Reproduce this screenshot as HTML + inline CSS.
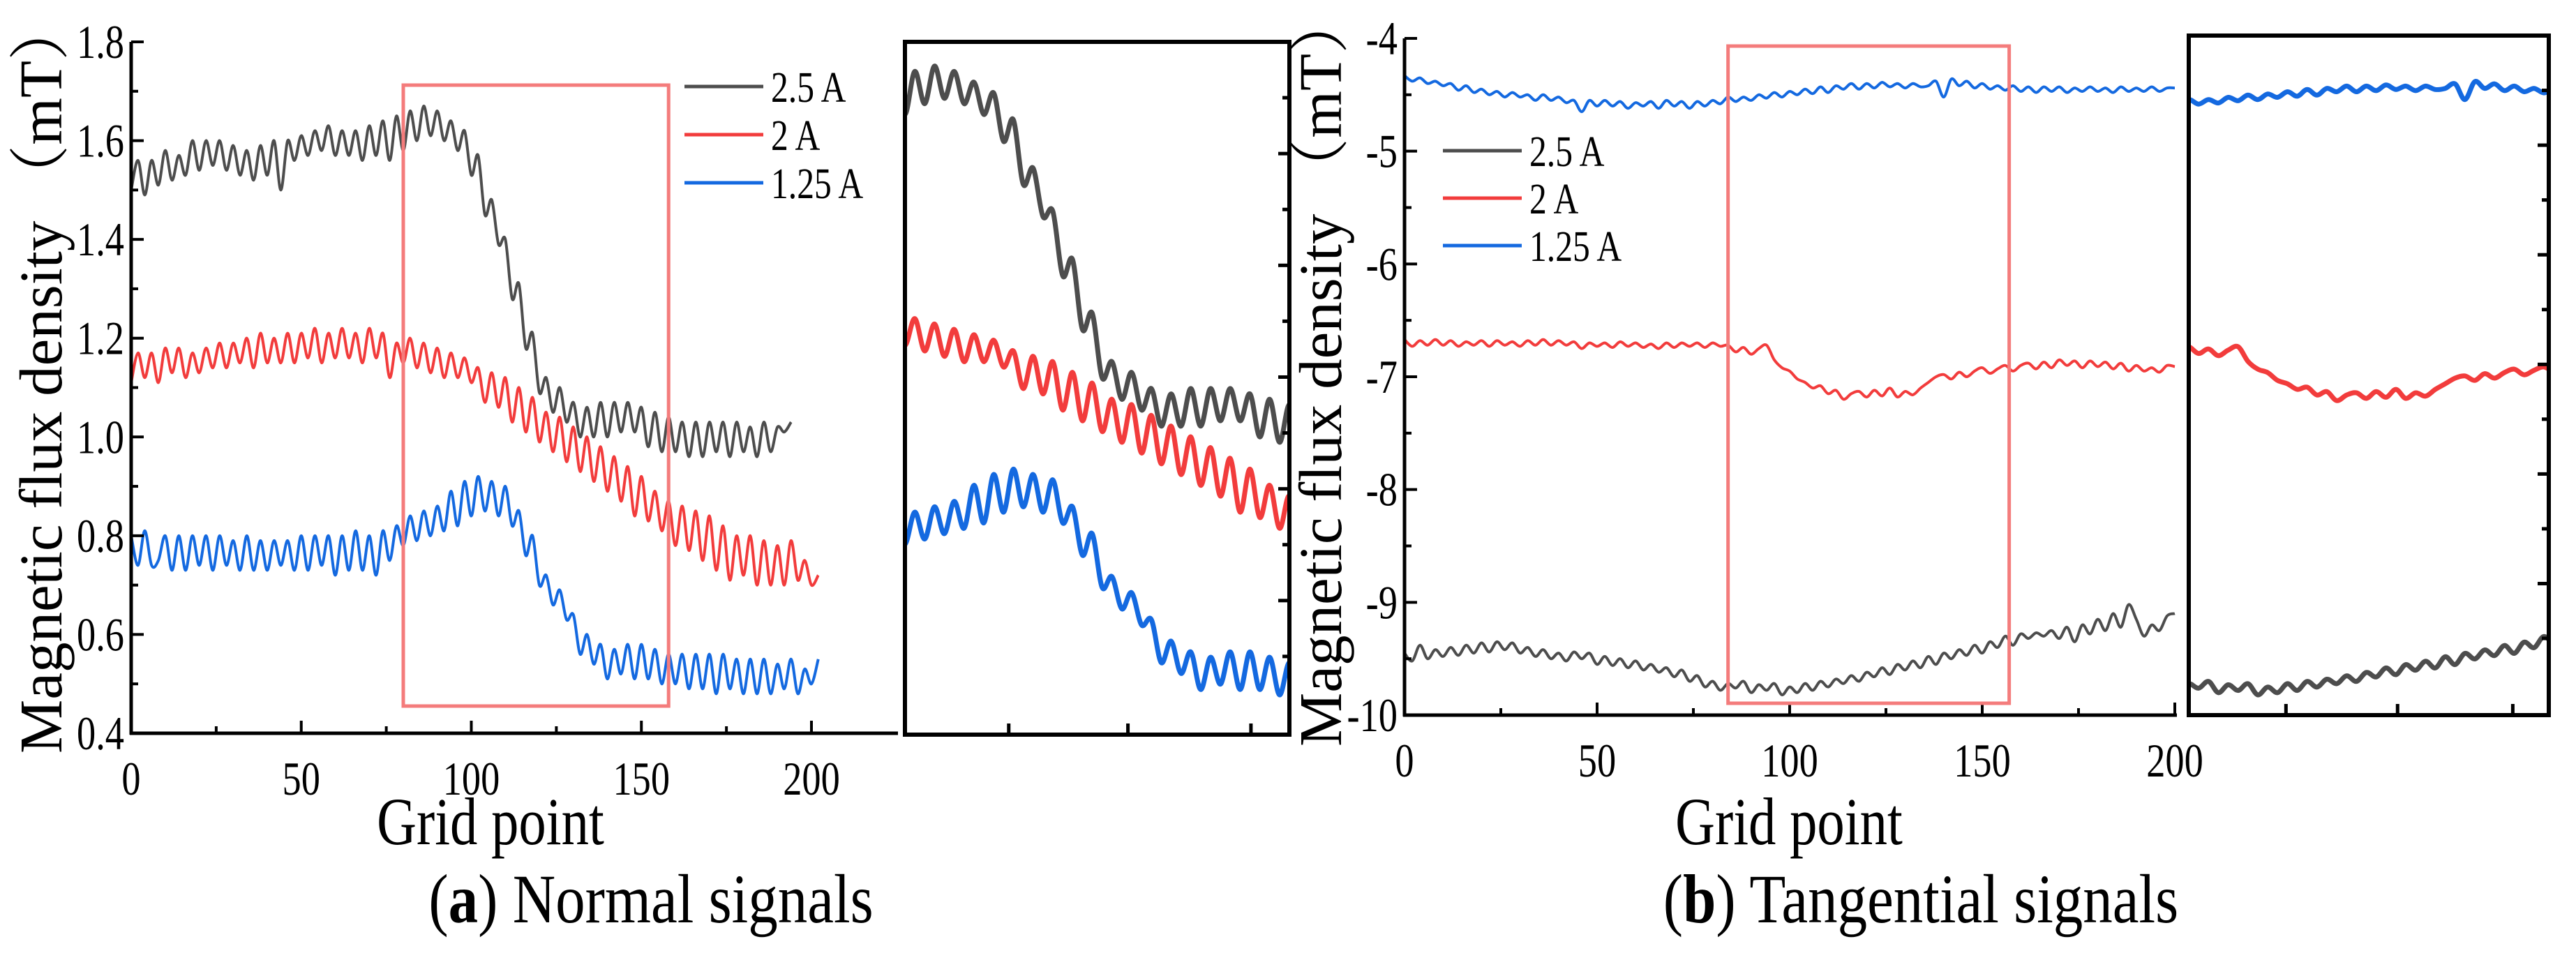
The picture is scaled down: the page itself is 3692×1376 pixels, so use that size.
<!DOCTYPE html>
<html><head><meta charset="utf-8"><style>
body{margin:0;background:#fff}
svg{display:block}
text{font-family:"Liberation Serif",serif}
</style></head><body>
<svg id="fig" width="3692" height="1376" viewBox="0 0 3692 1376" xmlns="http://www.w3.org/2000/svg"></svg>
<script>
const lyTicks=[0.4,0.6,0.8,1.0,1.2,1.4,1.6,1.8], lyLabels=["0.4","0.6","0.8","1.0","1.2","1.4","1.6","1.8"];
const xTicks=[0,50,100,150,200], xLabels=["0","50","100","150","200"];
const ryTicks=[-10,-9,-8,-7,-6,-5,-4], ryLabels=["-10","-9","-8","-7","-6","-5","-4"];
const seriesNames=["2.5 A","2 A","1.25 A"];
const colors=["#4d4d4d","#f23c3c","#1469e0"];
const nBlack=[1.50,1.56,1.49,1.56,1.51,1.58,1.52,1.57,1.53,1.60,1.54,1.60,1.55,1.60,1.54,1.59,1.53,1.58,1.52,1.59,1.53,1.60,1.50,1.60,1.56,1.61,1.57,1.62,1.58,1.63,1.57,1.62,1.57,1.62,1.56,1.63,1.57,1.64,1.56,1.65,1.58,1.66,1.60,1.67,1.61,1.66,1.60,1.64,1.58,1.62,1.53,1.57,1.45,1.48,1.39,1.40,1.28,1.31,1.18,1.21,1.09,1.12,1.05,1.10,1.03,1.07,1.00,1.06,1.00,1.07,1.00,1.07,1.01,1.07,1.01,1.06,0.98,1.05,0.97,1.04,0.97,1.03,0.96,1.03,0.96,1.03,0.97,1.03,0.96,1.03,0.97,1.02,0.96,1.03,0.97,1.02,1.01,1.03];
const nRed=[1.11,1.17,1.12,1.17,1.11,1.18,1.13,1.18,1.12,1.17,1.13,1.18,1.14,1.19,1.14,1.19,1.15,1.20,1.14,1.21,1.15,1.20,1.15,1.21,1.15,1.21,1.16,1.22,1.15,1.21,1.16,1.22,1.16,1.21,1.15,1.22,1.16,1.21,1.12,1.19,1.15,1.20,1.14,1.19,1.13,1.18,1.12,1.17,1.12,1.16,1.11,1.14,1.07,1.13,1.06,1.12,1.03,1.10,1.01,1.08,0.99,1.05,0.97,1.04,0.95,1.02,0.93,1.00,0.91,0.98,0.89,0.96,0.87,0.94,0.84,0.92,0.83,0.89,0.81,0.87,0.78,0.86,0.77,0.85,0.75,0.84,0.73,0.82,0.71,0.80,0.72,0.80,0.70,0.79,0.70,0.78,0.70,0.79,0.71,0.75,0.70,0.72];
const nBlue=[0.80,0.74,0.81,0.74,0.75,0.80,0.73,0.80,0.73,0.80,0.74,0.80,0.73,0.80,0.74,0.79,0.73,0.80,0.73,0.79,0.73,0.79,0.74,0.79,0.73,0.80,0.73,0.80,0.74,0.80,0.72,0.80,0.73,0.81,0.73,0.80,0.72,0.81,0.75,0.82,0.78,0.84,0.79,0.85,0.80,0.86,0.81,0.89,0.82,0.91,0.84,0.92,0.85,0.91,0.84,0.90,0.82,0.85,0.76,0.80,0.70,0.72,0.66,0.69,0.63,0.64,0.56,0.60,0.54,0.58,0.51,0.57,0.52,0.58,0.51,0.58,0.51,0.57,0.50,0.56,0.50,0.56,0.49,0.56,0.49,0.56,0.48,0.56,0.49,0.55,0.48,0.55,0.48,0.55,0.48,0.54,0.49,0.55,0.48,0.53,0.50,0.55];
const tBlue=[-4.33,-4.38,-4.35,-4.40,-4.38,-4.42,-4.40,-4.46,-4.42,-4.48,-4.45,-4.50,-4.47,-4.52,-4.48,-4.52,-4.50,-4.55,-4.50,-4.55,-4.52,-4.57,-4.55,-4.65,-4.55,-4.60,-4.55,-4.60,-4.56,-4.62,-4.57,-4.60,-4.56,-4.62,-4.55,-4.60,-4.56,-4.62,-4.56,-4.60,-4.55,-4.58,-4.52,-4.56,-4.52,-4.55,-4.50,-4.53,-4.48,-4.52,-4.47,-4.50,-4.45,-4.49,-4.43,-4.48,-4.42,-4.45,-4.40,-4.45,-4.40,-4.44,-4.39,-4.43,-4.40,-4.44,-4.40,-4.43,-4.42,-4.38,-4.52,-4.36,-4.42,-4.38,-4.44,-4.40,-4.45,-4.42,-4.46,-4.42,-4.47,-4.43,-4.48,-4.43,-4.47,-4.43,-4.48,-4.44,-4.47,-4.43,-4.47,-4.44,-4.48,-4.43,-4.47,-4.44,-4.47,-4.43,-4.47,-4.44,-4.44];
const tRed=[-6.67,-6.73,-6.68,-6.72,-6.67,-6.72,-6.68,-6.73,-6.69,-6.72,-6.68,-6.73,-6.68,-6.72,-6.69,-6.73,-6.68,-6.72,-6.67,-6.72,-6.68,-6.72,-6.69,-6.75,-6.70,-6.73,-6.70,-6.74,-6.69,-6.73,-6.70,-6.74,-6.71,-6.75,-6.70,-6.74,-6.70,-6.73,-6.70,-6.74,-6.70,-6.73,-6.72,-6.78,-6.74,-6.80,-6.75,-6.72,-6.85,-6.92,-6.95,-7.02,-7.05,-7.10,-7.08,-7.15,-7.12,-7.20,-7.15,-7.13,-7.18,-7.12,-7.17,-7.10,-7.18,-7.13,-7.16,-7.10,-7.05,-7.00,-6.98,-7.02,-6.96,-7.00,-6.95,-6.92,-6.97,-6.93,-6.90,-6.95,-6.90,-6.88,-6.93,-6.87,-6.92,-6.85,-6.90,-6.86,-6.92,-6.86,-6.91,-6.87,-6.93,-6.88,-6.95,-6.90,-6.95,-6.92,-6.96,-6.90,-6.91];
const tBlack=[-9.45,-9.52,-9.38,-9.50,-9.42,-9.48,-9.40,-9.47,-9.38,-9.45,-9.36,-9.44,-9.35,-9.42,-9.36,-9.45,-9.40,-9.48,-9.42,-9.50,-9.45,-9.52,-9.44,-9.50,-9.45,-9.55,-9.48,-9.56,-9.50,-9.58,-9.52,-9.60,-9.55,-9.62,-9.58,-9.66,-9.60,-9.70,-9.65,-9.75,-9.70,-9.78,-9.72,-9.76,-9.70,-9.80,-9.73,-9.78,-9.72,-9.82,-9.75,-9.80,-9.72,-9.78,-9.70,-9.75,-9.68,-9.72,-9.65,-9.70,-9.62,-9.66,-9.58,-9.64,-9.55,-9.60,-9.52,-9.58,-9.48,-9.55,-9.45,-9.50,-9.42,-9.47,-9.38,-9.45,-9.35,-9.40,-9.30,-9.38,-9.28,-9.32,-9.27,-9.30,-9.25,-9.32,-9.22,-9.35,-9.20,-9.28,-9.15,-9.25,-9.10,-9.22,-9.02,-9.15,-9.30,-9.20,-9.25,-9.12,-9.10];
const STEP=2;

const NS="http://www.w3.org/2000/svg", svg=document.getElementById('fig');
function el(tag,attrs,parent,txt){const e=document.createElementNS(NS,tag);for(const k in attrs)e.setAttribute(k,attrs[k]);if(txt!==undefined)e.textContent=txt;(parent||svg).appendChild(e);return e;}
function txt(x,y,size,anchor,parent,str,sx,rot){
  const t=el('text',{x:0,y:0,'font-size':size,'text-anchor':anchor,transform:`translate(${x},${y})${rot?' rotate('+rot+')':''} scale(${sx},1)`},parent,str);
  return t;
}
function scale(d0,d1,r0,r1){return v=>r0+(v-d0)/(d1-d0)*(r1-r0);}
function path(vals,X,Y,xmin,xmax,color,w,parent,name){
  const pts=[];vals.forEach((v,i)=>{const x=i*STEP;if(x<xmin||x>xmax)return;pts.push([X(x),Y(v)]);});
  let d="M"+pts[0][0].toFixed(1)+","+pts[0][1].toFixed(1);
  for(let i=0;i<pts.length-1;i++){
    const p0=pts[Math.max(0,i-1)],p1=pts[i],p2=pts[i+1],p3=pts[Math.min(pts.length-1,i+2)];
    const c1=[p1[0]+(p2[0]-p0[0])/6,p1[1]+(p2[1]-p0[1])/6],c2=[p2[0]-(p3[0]-p1[0])/6,p2[1]-(p3[1]-p1[1])/6];
    d+="C"+c1[0].toFixed(1)+","+c1[1].toFixed(1)+" "+c2[0].toFixed(1)+","+c2[1].toFixed(1)+" "+p2[0].toFixed(1)+","+p2[1].toFixed(1);
  }
  const p=el('path',{d:d,fill:'none',stroke:color,'stroke-width':w,'stroke-linejoin':'round'},parent);
  
  
}
function panel(o){
  const g=el('g',{});
  
  
  const X=scale(0,200,o.x0,o.x1),Y=scale(o.ymin,o.ymax,o.yb,o.yt);
  o.data.forEach((s,i)=>path(s,X,Y,0,210,colors[i],4,g,'line-'+o.tag+'-'+i));
  el('line',{x1:o.x0,y1:o.yt,x2:o.x0,y2:o.yb+2,stroke:'#000','stroke-width':5},g);
  el('line',{x1:o.x0-2,y1:o.yb,x2:o.xend,y2:o.yb,stroke:'#000','stroke-width':5},g);
  for(let k=0;k<=8;k++){const v=k*25,x=X(v);el('line',{x1:x,y1:o.yb,x2:x,y2:o.yb-(k%2?10:18),stroke:'#000','stroke-width':4},g);}
  xTicks.forEach((v,i)=>{const t=txt(X(v),o.yb+88,68,'middle',g,xLabels[i],0.8);});
  o.yt_.forEach((v,i)=>{const y=Y(v);el('line',{x1:o.x0,y1:y,x2:o.x0+18,y2:y,stroke:'#000','stroke-width':4},g);
    if(i<o.yt_.length-1){const ym=Y((v+o.yt_[i+1])/2);el('line',{x1:o.x0,y1:ym,x2:o.x0+10,y2:ym,stroke:'#000','stroke-width':4},g);}
    const t=txt(o.x0-10,y+23,68,'end',g,o.yl[i],0.8);});
  const rb=el('rect',{x:X(o.bx0),y:o.by0,width:X(o.bx1)-X(o.bx0),height:o.by1-o.by0,fill:'none',stroke:'#f47c7c','stroke-width':5},g);
  
  seriesNames.forEach((n,i)=>{const y=o.ly+i*o.lgap;el('line',{x1:o.lx,y1:y,x2:o.lx+113,y2:y,stroke:colors[i],'stroke-width':5},g);
    const t=txt(o.lx+124,y+22,62,'start',g,n,0.8);});
  const yt=txt(o.tx,o.tcy,87,'middle',g,'Magnetic flux density （mT）',1,-90);
  
  yt.setAttribute('style','font-family:"Liberation Serif","Noto Serif CJK SC",serif');
  const xt=txt(o.gx,1210,96,'middle',g,'Grid point',0.82);
  
  const cap=el('text',{x:0,y:0,'font-size':100,'text-anchor':'middle',transform:`translate(${o.cx},1322) scale(0.85,1)`},g);
  
  el('tspan',{},cap,'(');el('tspan',{'font-weight':'bold'},cap,o.letter);el('tspan',{},cap,') '+o.cap);
  const ig=el('g',{},g);
  
  const cp=el('clipPath',{id:'c'+o.tag},ig);el('rect',{x:o.ix0,y:o.iy0,width:o.ix1-o.ix0,height:o.iy1-o.iy0},cp);
  const IX=scale(o.bx0,o.bx1,o.ix0,o.ix1),IY=scale(o.imin,o.imax,o.iy1,o.iy0);
  const lg=el('g',{'clip-path':`url(#c${o.tag})`},ig);
  o.data.forEach((s,i)=>path(s,IX,IY,o.bx0-2,o.bx1+2,colors[i],7,lg,'inset-line-'+o.tag+'-'+i));
  el('rect',{x:o.ix0,y:o.iy0,width:o.ix1-o.ix0,height:o.iy1-o.iy0,fill:'none',stroke:'#000','stroke-width':6},ig);
  for(let k=1;k<12;k++){const y=o.iy0+k*(o.iy1-o.iy0)/12.4;el('line',{x1:o.ix1,y1:y,x2:o.ix1-(k%2?10:16),y2:y,stroke:'#000','stroke-width':5},ig);}
  [0.27,0.58,0.9].forEach(f=>{const x=o.ix0+f*(o.ix1-o.ix0);el('line',{x1:x,y1:o.iy1,x2:x,y2:o.iy1-16,stroke:'#000','stroke-width':5},ig);});
}
panel({name:'normal-signals-panel',tag:'a',data:[nBlack,nRed,nBlue],x0:188,x1:1163,xend:1287,ymin:0.4,ymax:1.8,yb:1051,yt:60,yt_:lyTicks,yl:lyLabels,
  bx0:80,bx1:158,by0:122,by1:1012,lx:981,ly:124,lgap:69,tx:88,tcy:540,gx:703,cx:933,letter:'a',cap:'Normal signals',
  ix0:1297,ix1:1848,iy0:60,iy1:1053,imin:0.426,imax:1.715});
panel({name:'tangential-signals-panel',tag:'b',data:[tBlack,tRed,tBlue],x0:2013,x1:3117,xend:3120,ymin:-10,ymax:-4,yb:1025,yt:55,yt_:ryTicks,yl:ryLabels,
  bx0:84,bx1:157,by0:66,by1:1008,lx:2068,ly:216,lgap:68,tx:1922,tcy:530,gx:2564,cx:2753,letter:'b',cap:'Tangential signals',
  ix0:3137,ix1:3653,iy0:51,iy1:1025,imin:-10,imax:-3.95});
</script>
</body></html>
